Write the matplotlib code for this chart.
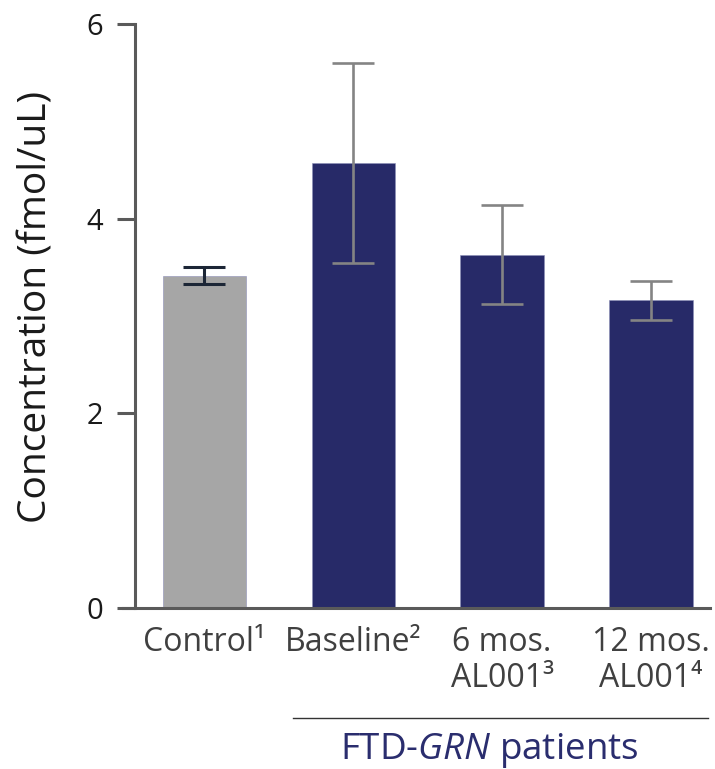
import matplotlib
matplotlib.use("Agg")
import matplotlib.pyplot as plt
from matplotlib.lines import Line2D

plt.rcParams['font.family'] = ['Open Sans', 'DejaVu Sans']
plt.rcParams['mathtext.fontset'] = 'custom'
plt.rcParams['mathtext.rm'] = 'Open Sans'
plt.rcParams['mathtext.it'] = 'Open Sans:italic'

# data
categories = ["Control¹", "Baseline²", "6 mos.\nAL001³", "12 mos.\nAL001⁴"]
values = [3.41, 4.57, 3.63, 3.16]
err_low = [3.33, 3.54, 3.12, 2.96]
err_high = [3.50, 5.60, 4.14, 3.36]
bar_colors = ["#a6a6a6", "#272a68", "#272a68", "#272a68"]
err_colors = ["#1c2636", "#848484", "#848484", "#848484"]
yticks = [0, 2, 4, 6]

fig = plt.figure(figsize=(7.15, 7.69), dpi=100)
ax = fig.add_axes([123 / 715, 1 - 608 / 769, (710 - 123) / 715, (608 - 24) / 769])

x = list(range(len(values)))
ax.bar(x, values, width=0.56, color=bar_colors, edgecolor="#8c8fb8", linewidth=0.4, zorder=2)
for i in x:
    ax.errorbar(i, values[i],
                yerr=[[values[i] - err_low[i]], [err_high[i] - values[i]]],
                fmt="none", ecolor=err_colors[i],
                elinewidth=2.2 if i == 0 else 1.9,
                capthick=2.2 if i == 0 else 1.9,
                capsize=15, zorder=3)

ax.set_xlim(-0.547, 3.396)
ax.set_ylim(0, 6)

for s in ["top", "right"]:
    ax.spines[s].set_visible(False)
ax.spines["left"].set_position(("axes", 12 / 587))
ax.spines["left"].set_color("#5a5a5a")
ax.spines["bottom"].set_color("#5a5a5a")
ax.spines["left"].set_linewidth(2.2)
ax.spines["bottom"].set_linewidth(2.2)

ax.set_yticks(yticks)
ax.set_yticklabels([str(t) for t in yticks], fontsize=21, color="#1a1a1a")
ax.tick_params(axis="y", length=13, width=2.2, color="#5a5a5a", pad=10)
ax.set_xticks(x)
ax.set_xticklabels(categories, fontsize=23, color="#404040", linespacing=1.12)
ax.tick_params(axis="x", length=0, pad=13)

ax.set_ylabel("Concentration (fmol/uL)", fontsize=28, color="#1a1a1a")
ax.yaxis.set_label_coords(-0.115, 0.515)

# group bracket under the patient bars
fig.add_artist(Line2D([293 / 715, 708 / 715], [1 - 718 / 769, 1 - 718 / 769],
                      color="#333333", linewidth=1.0))
fig.text(489 / 715, 1 - 751 / 769, "FTD-$\\mathit{GRN}$ patients", fontsize=26.5,
         color="#2a2d6e", ha="center", va="center")

fig.savefig("out.png", dpi=100)
